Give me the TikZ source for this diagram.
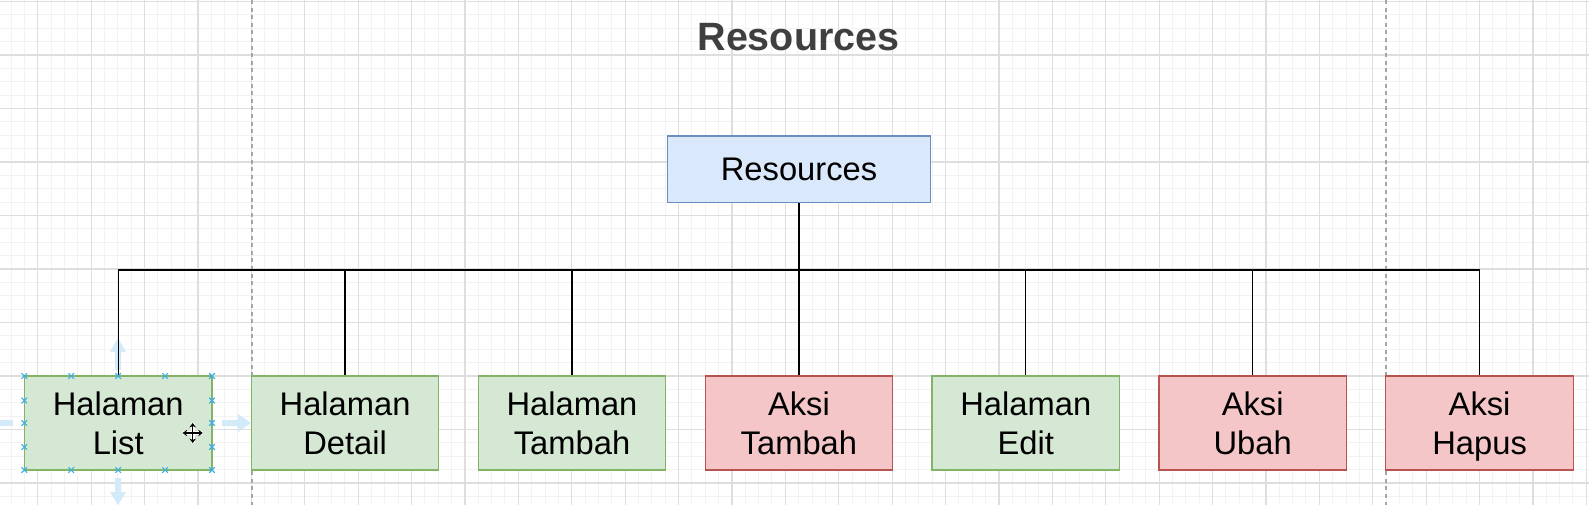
\documentclass[tikz,border=0pt]{standalone}
\usepackage{fontspec}
\setmainfont{Liberation Sans}
\usetikzlibrary{arrows.meta}
\definecolor{gminor}{HTML}{F2F2F2}
\definecolor{gmajor}{HTML}{DEDEDE}
\definecolor{greenF}{HTML}{D5E8D4}
\definecolor{greenD}{HTML}{82B366}
\definecolor{redF}{HTML}{F4C6C8}
\definecolor{redD}{HTML}{B85450}
\definecolor{blueF}{HTML}{DAE8FC}
\definecolor{blueD}{HTML}{6C8EBF}
\definecolor{titlec}{HTML}{3F3F3F}
\definecolor{selc}{HTML}{3AAEE6}
\definecolor{hintc}{HTML}{D3EAF8}
\newcommand\firstln{\rule{0pt}{17.45pt}\rule[-5.85pt]{0pt}{5.85pt}}
\newcommand\lastln{\strut}
\tikzset{
  minorln/.style={draw=gminor, line width=0.5pt},
  majorln/.style={draw=gmajor, line width=0.6pt},
  pageln/.style={draw=gray!70, line width=0.6pt, dash pattern=on 2pt off 1.8pt},
  boxbase/.style={draw, line width=0.6pt, minimum width=93.75pt, minimum height=47pt,
    align=center, inner sep=0pt, font=\fontsize{16.35}{19.5}\selectfont},
  pagebox/.style={boxbase, fill=greenF, draw=greenD},
  actbox/.style={boxbase, fill=redF, draw=redD},
  rootbox/.style={boxbase, fill=blueF, draw=blueD, minimum width=131.7pt, minimum height=33.35pt},
  conn/.style={draw=black, line width=0.65pt},
  selmark/.style={draw=selc, line width=0.55pt},
  hint/.style={fill=hintc, draw=none},
}
\begin{document}
\begin{tikzpicture}[x=0.5pt, y=-0.5pt]
\useasboundingbox (0,0) rectangle (1589,505);
\fill[white] (0,0) rectangle (1589,505);
% grid
\foreach \i in {0,...,118} { \draw[minorln] ({11+\i*13.35},0) -- ({11+\i*13.35},505); }
\foreach \i in {0,...,37} { \draw[minorln] (0,{1.5+\i*13.375}) -- (1589,{1.5+\i*13.375}); }
\foreach \i in {0,...,29} { \draw[majorln] ({37.7+\i*53.4},0) -- ({37.7+\i*53.4},505); }
\foreach \i in {0,...,9} { \draw[majorln] (0,{1.5+\i*53.5}) -- (1589,{1.5+\i*53.5}); }
% page borders
\draw[pageln] (252,0) -- (252,505);
\draw[pageln] (1386,0) -- (1386,505);
% title
\node[anchor=base, text=titlec, font=\fontsize{19.75}{24}\selectfont\bfseries] (title) at (798.5,50) {Resources};
% hint arrows of the selected shape
\fill[hint] (115,370) -- (115,352) -- (110,352) -- (118,338) -- (126,352) -- (121,352) -- (121,370) -- cycle;
\fill[hint] (115,478) -- (115,492) -- (110,492) -- (118,505) -- (126,492) -- (121,492) -- (121,478) -- cycle;
\fill[hint] (222,420) -- (238,420) -- (238,414) -- (251,423) -- (238,432) -- (238,426) -- (222,426) -- cycle;
\fill[hint] (13,420) -- (0,420) -- (0,426) -- (13,426) -- cycle;
% nodes
\node[rootbox] (res) at (799,169.3) {Resources};
\node[pagebox] (c1) at (118.2,423) {\firstln Halaman\\\lastln List};
\node[pagebox] (c2) at (345.1,423) {\firstln Halaman\\\lastln Detail};
\node[pagebox] (c3) at (572.0,423) {\firstln Halaman\\\lastln Tambah};
\node[actbox]  (c4) at (798.9,423) {\firstln Aksi\\\lastln Tambah};
\node[pagebox] (c5) at (1025.8,423) {\firstln Halaman\\\lastln Edit};
\node[actbox]  (c6) at (1252.7,423) {\firstln Aksi\\\lastln Ubah};
\node[actbox]  (c7) at (1479.6,423) {\firstln Aksi\\\lastln Hapus};
% connectors
\coordinate (bus) at (0,270);
\foreach \c in {c1,c2,c3,c4,c5,c6,c7} {
  \draw[conn] (res.south) -- (res.south |- bus) -| (\c.north);
}
% selection markers on c1
\foreach \x in {24.3,71.2,118.2,165.1,212} {
  \foreach \y in {376,470} {
    \draw[selmark] ({\x-2.8},{\y-2.8}) -- ({\x+2.8},{\y+2.8}) ({\x-2.8},{\y+2.8}) -- ({\x+2.8},{\y-2.8});
  }
}
\foreach \x in {24.3,212} {
  \foreach \y in {400.5,423,447} {
    \draw[selmark] ({\x-2.8},{\y-2.8}) -- ({\x+2.8},{\y+2.8}) ({\x-2.8},{\y+2.8}) -- ({\x+2.8},{\y-2.8});
  }
}
% move cursor
\coordinate (cur) at (192.7,433);
\draw[white, line width=2.2pt] ([xshift=-5pt]cur) -- ([xshift=5pt]cur) ([yshift=-5pt]cur) -- ([yshift=5pt]cur);
\draw[black, line width=0.7pt, {Stealth[length=2.2pt,width=3.2pt]}-{Stealth[length=2.2pt,width=3.2pt]}] ([xshift=-5pt]cur) -- ([xshift=5pt]cur);
\draw[black, line width=0.7pt, {Stealth[length=2.2pt,width=3.2pt]}-{Stealth[length=2.2pt,width=3.2pt]}] ([yshift=-5pt]cur) -- ([yshift=5pt]cur);
\end{tikzpicture}
\end{document}
